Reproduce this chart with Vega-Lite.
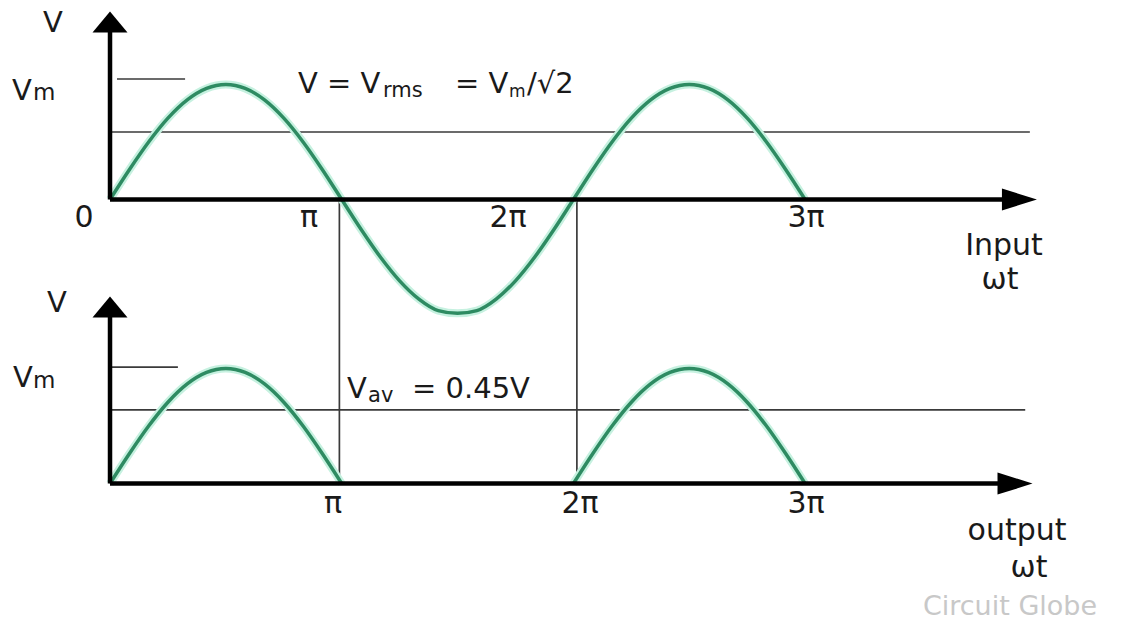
{
  "$schema": "https://vega.github.io/schema/vega-lite/v6.json",
  "width": 1135,
  "height": 621,
  "autosize": {"type": "fit", "contains": "padding"},
  "padding": 0,
  "background": "white",
  "config": {"view": {"stroke": null}, "text": {"font": "DejaVu Sans", "color": "#1a1a1a"}},
  "datasets": {
    "wave": [
      {"seg": "in", "t": 0, "v": 0}, {"seg": "in", "t": 0.0833, "v": 0.2588}, {"seg": "in", "t": 0.1667, "v": 0.5}, {"seg": "in", "t": 0.25, "v": 0.7071}, {"seg": "in", "t": 0.3333, "v": 0.866}, {"seg": "in", "t": 0.4167, "v": 0.9659}, {"seg": "in", "t": 0.5, "v": 1}, {"seg": "in", "t": 0.5833, "v": 0.9659}, {"seg": "in", "t": 0.6667, "v": 0.866}, {"seg": "in", "t": 0.75, "v": 0.7071}, {"seg": "in", "t": 0.8333, "v": 0.5}, {"seg": "in", "t": 0.9167, "v": 0.2588}, {"seg": "in", "t": 1, "v": 0},
      {"seg": "in", "t": 1.0833, "v": -0.2588}, {"seg": "in", "t": 1.1667, "v": -0.5}, {"seg": "in", "t": 1.25, "v": -0.7071}, {"seg": "in", "t": 1.3333, "v": -0.866}, {"seg": "in", "t": 1.4167, "v": -0.9659}, {"seg": "in", "t": 1.5, "v": -0.99}, {"seg": "in", "t": 1.5833, "v": -0.9659}, {"seg": "in", "t": 1.6667, "v": -0.866}, {"seg": "in", "t": 1.75, "v": -0.7071}, {"seg": "in", "t": 1.8333, "v": -0.5}, {"seg": "in", "t": 1.9167, "v": -0.2588}, {"seg": "in", "t": 2, "v": 0},
      {"seg": "in", "t": 2.0833, "v": 0.2588}, {"seg": "in", "t": 2.1667, "v": 0.5}, {"seg": "in", "t": 2.25, "v": 0.7071}, {"seg": "in", "t": 2.3333, "v": 0.866}, {"seg": "in", "t": 2.4167, "v": 0.9659}, {"seg": "in", "t": 2.5, "v": 1}, {"seg": "in", "t": 2.5833, "v": 0.9659}, {"seg": "in", "t": 2.6667, "v": 0.866}, {"seg": "in", "t": 2.75, "v": 0.7071}, {"seg": "in", "t": 2.8333, "v": 0.5}, {"seg": "in", "t": 2.9167, "v": 0.2588}, {"seg": "in", "t": 3, "v": 0},
      {"seg": "out1", "t": 0, "v": -2.47}, {"seg": "out1", "t": 0.0833, "v": -2.2112}, {"seg": "out1", "t": 0.1667, "v": -1.97}, {"seg": "out1", "t": 0.25, "v": -1.7629}, {"seg": "out1", "t": 0.3333, "v": -1.604}, {"seg": "out1", "t": 0.4167, "v": -1.5041}, {"seg": "out1", "t": 0.5, "v": -1.47}, {"seg": "out1", "t": 0.5833, "v": -1.5041}, {"seg": "out1", "t": 0.6667, "v": -1.604}, {"seg": "out1", "t": 0.75, "v": -1.7629}, {"seg": "out1", "t": 0.8333, "v": -1.97}, {"seg": "out1", "t": 0.9167, "v": -2.2112}, {"seg": "out1", "t": 1, "v": -2.47},
      {"seg": "out2", "t": 2, "v": -2.47}, {"seg": "out2", "t": 2.0833, "v": -2.2112}, {"seg": "out2", "t": 2.1667, "v": -1.97}, {"seg": "out2", "t": 2.25, "v": -1.7629}, {"seg": "out2", "t": 2.3333, "v": -1.604}, {"seg": "out2", "t": 2.4167, "v": -1.5041}, {"seg": "out2", "t": 2.5, "v": -1.47}, {"seg": "out2", "t": 2.5833, "v": -1.5041}, {"seg": "out2", "t": 2.6667, "v": -1.604}, {"seg": "out2", "t": 2.75, "v": -1.7629}, {"seg": "out2", "t": 2.8333, "v": -1.97}, {"seg": "out2", "t": 2.9167, "v": -2.2112}, {"seg": "out2", "t": 3, "v": -2.47}
    ],
    "guides": [
      {"t": 0.03, "t2": 0.324, "v": 1.048, "v2": 1.048},
      {"t": 0, "t2": 3.97, "v": 0.587, "v2": 0.587},
      {"t": 0, "t2": 0.293, "v": -1.457, "v2": -1.457},
      {"t": 0, "t2": 3.95, "v": -1.83, "v2": -1.83},
      {"t": 0.99, "t2": 0.99, "v": 0, "v2": -2.47},
      {"t": 2.015, "t2": 2.015, "v": 0, "v2": -2.47}
    ],
    "axes": [
      {"t": 0, "t2": 0, "v": 0, "v2": 1.5},
      {"t": 0, "t2": 3.9, "v": 0, "v2": 0},
      {"t": 0, "t2": 0, "v": -2.47, "v2": -0.95},
      {"t": 0, "t2": 3.88, "v": -2.47, "v2": -2.47}
    ],
    "arrowsUp": [
      {"t": 0, "v": 1.5435},
      {"t": 0, "v": -0.935}
    ],
    "arrowsRight": [
      {"t": 3.925, "v": 0},
      {"t": 3.906, "v": -2.47}
    ],
    "ticks": [
      {"t": -0.1122, "v": -0.2391, "text": "0"},
      {"t": 0.8589, "v": -0.2391, "text": "π"},
      {"t": 1.7177, "v": -0.2391, "text": "2π"},
      {"t": 3.0039, "v": -0.2391, "text": "3π"},
      {"t": 0.9625, "v": -2.7261, "text": "π"},
      {"t": 2.0285, "v": -2.7261, "text": "2π"},
      {"t": 3.0039, "v": -2.7261, "text": "3π"}
    ],
    "names": [
      {"t": 3.8584, "v": -0.4826, "text": "Input"},
      {"t": 3.8412, "v": -0.7783, "text": "ωt"},
      {"t": 3.9146, "v": -2.9609, "text": "output"},
      {"t": 3.9663, "v": -3.2826, "text": "ωt"}
    ],
    "mainText": [
      {"t": -0.2892, "v": 1.4565, "text": "V"},
      {"t": -0.423, "v": 0.8652, "text": "V"},
      {"t": 0.8114, "v": 0.9261, "text": "V = V"},
      {"t": 1.489, "v": 0.9261, "text": "= V"},
      {"t": 1.7997, "v": 0.9261, "text": "/√2"},
      {"t": -0.2719, "v": -0.9783, "text": "V"},
      {"t": -0.4186, "v": -1.6304, "text": "V"},
      {"t": 1.0229, "v": -1.7261, "text": "V"},
      {"t": 1.3034, "v": -1.7261, "text": "= 0.45V"}
    ],
    "subBig": [
      {"t": -0.3323, "v": 0.8652, "text": "m"},
      {"t": -0.3323, "v": -1.6391, "text": "m"}
    ],
    "subSmall": [
      {"t": 1.1783, "v": 0.8913, "text": "rms"},
      {"t": 1.1135, "v": -1.7609, "text": "av"}
    ],
    "subTiny": [
      {"t": 1.7221, "v": 0.8913, "text": "m"}
    ],
    "credit": [
      {"t": 3.8843, "v": -3.613, "text": "Circuit Globe"}
    ]
  },
  "encoding": {
    "x": {"field": "t", "type": "quantitative", "scale": {"domain": [-0.4748, 4.4238], "nice": false, "zero": false}, "axis": null},
    "y": {"field": "v", "type": "quantitative", "scale": {"domain": [-3.6652, 1.7348], "nice": false, "zero": false}, "axis": null}
  },
  "layer": [
    {
      "data": {"name": "guides"},
      "mark": {"type": "rule", "color": "#3a3a3a", "strokeWidth": 1.7},
      "encoding": {"x2": {"field": "t2"}, "y2": {"field": "v2"}}
    },
    {
      "data": {"name": "wave"},
      "mark": {"type": "line", "color": "#c6f1e0", "strokeWidth": 8, "interpolate": "monotone"},
      "encoding": {"detail": {"field": "seg"}}
    },
    {
      "data": {"name": "wave"},
      "mark": {"type": "line", "color": "#2e8b62", "strokeWidth": 3.5, "interpolate": "monotone"},
      "encoding": {"detail": {"field": "seg"}}
    },
    {
      "data": {"name": "axes"},
      "mark": {"type": "rule", "color": "#000000", "strokeWidth": 4.5, "strokeCap": "butt"},
      "encoding": {"x2": {"field": "t2"}, "y2": {"field": "v2"}}
    },
    {
      "data": {"name": "arrowsUp"},
      "mark": {"type": "point", "shape": "M0,-0.6L-1,0.6L1,0.6Z", "size": 1225, "filled": true, "color": "#000000", "opacity": 1}
    },
    {
      "data": {"name": "arrowsRight"},
      "mark": {"type": "point", "shape": "M1,0L-1,-0.63L-1,0.63Z", "size": 1225, "filled": true, "color": "#000000", "opacity": 1}
    },
    {
      "data": {"name": "ticks"},
      "mark": {"type": "text", "fontSize": 30, "align": "center", "baseline": "alphabetic"},
      "encoding": {"text": {"field": "text"}}
    },
    {
      "data": {"name": "names"},
      "mark": {"type": "text", "fontSize": 30, "align": "center", "baseline": "alphabetic"},
      "encoding": {"text": {"field": "text"}}
    },
    {
      "data": {"name": "mainText"},
      "mark": {"type": "text", "fontSize": 29, "align": "left", "baseline": "alphabetic"},
      "encoding": {"text": {"field": "text"}}
    },
    {
      "data": {"name": "subBig"},
      "mark": {"type": "text", "fontSize": 23, "align": "left", "baseline": "alphabetic"},
      "encoding": {"text": {"field": "text"}}
    },
    {
      "data": {"name": "subSmall"},
      "mark": {"type": "text", "fontSize": 21, "align": "left", "baseline": "alphabetic"},
      "encoding": {"text": {"field": "text"}}
    },
    {
      "data": {"name": "subTiny"},
      "mark": {"type": "text", "fontSize": 17, "align": "left", "baseline": "alphabetic"},
      "encoding": {"text": {"field": "text"}}
    },
    {
      "data": {"name": "credit"},
      "mark": {"type": "text", "fontSize": 27, "align": "center", "baseline": "alphabetic", "color": "#c8c8c8"},
      "encoding": {"text": {"field": "text"}}
    }
  ]
}
